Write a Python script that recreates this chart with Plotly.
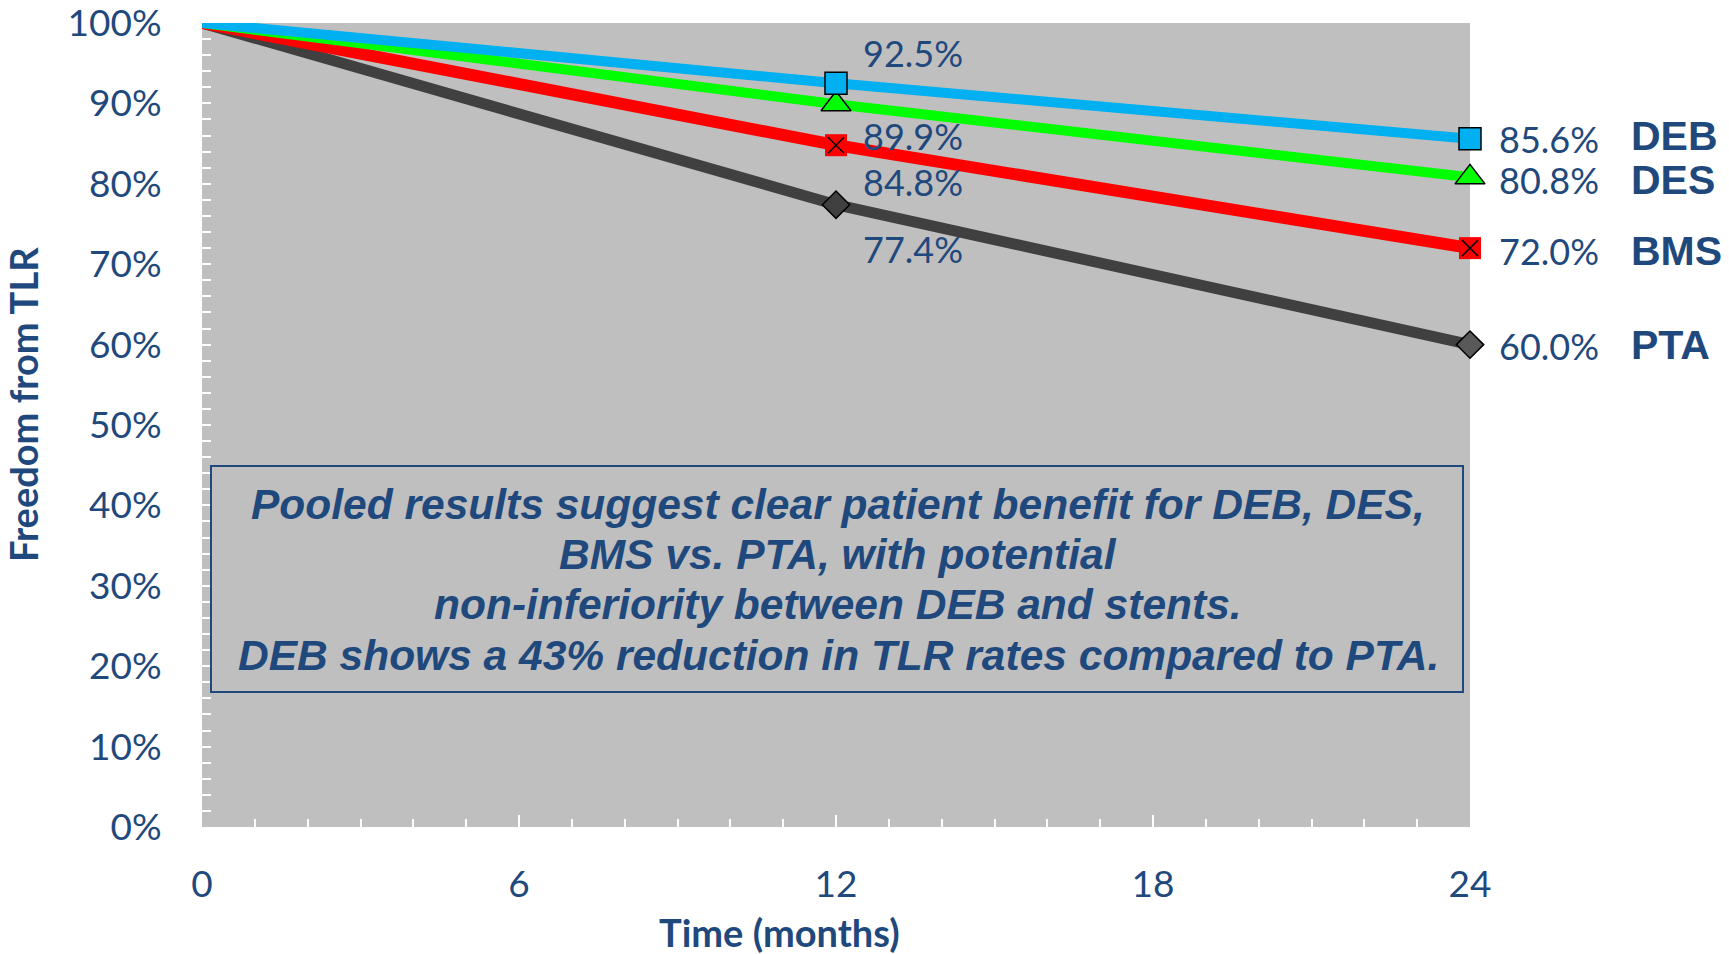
import plotly.graph_objects as go

# Freedom from target lesion revascularisation (TLR) over time
months = [0, 12, 24]
deb = [100, 92.5, 85.6]
des = [100, 89.9, 80.8]
bms = [100, 84.8, 72.0]
pta = [100, 77.4, 60.0]
series_names = ["DEB", "DES", "BMS", "PTA"]
x_tick_vals = [0, 6, 12, 18, 24]
y_tick_vals = [0, 10, 20, 30, 40, 50, 60, 70, 80, 90, 100]
y_tick_text = [f"{v}%" for v in y_tick_vals]
note_lines = [
    "Pooled results suggest clear patient benefit for DEB, DES,",
    "BMS vs. PTA, with potential",
    "non-inferiority between DEB and stents.",
    "DEB shows a 43% reduction in TLR rates compared to PTA.",
]

NAVY = "#1F497D"
W, H = 1729, 954
L, R, T, B = 202, 1470, 23, 827

fig = go.Figure()

styles = {
    "PTA": dict(vals=pta, color="#404040", width=11),
    "BMS": dict(vals=bms, color="#FF0000", width=12),
    "DES": dict(vals=des, color="#00FF00", width=10),
    "DEB": dict(vals=deb, color="#00B0F0", width=10),
}

# lines, back to front
for name in ["PTA", "BMS", "DES", "DEB"]:
    s = styles[name]
    fig.add_trace(go.Scatter(x=months, y=s["vals"], mode="lines",
                             line=dict(color=s["color"], width=s["width"]),
                             hoverinfo="skip", showlegend=False))

# markers at 12 and 24 months
mk_line = dict(color="black", width=1.5)
fig.add_trace(go.Scatter(x=months[1:], y=pta[1:], mode="markers", cliponaxis=False,
                         marker=dict(symbol="diamond", size=21,
                                     color=["#404040", "#595959"], line=mk_line),
                         showlegend=False))
fig.add_trace(go.Scatter(x=months[1:], y=bms[1:], mode="markers", cliponaxis=False,
                         marker=dict(symbol="square", size=22, color="#FF0000",
                                     line=dict(width=0)),
                         showlegend=False))
fig.add_trace(go.Scatter(x=months[1:], y=bms[1:], mode="markers", cliponaxis=False,
                         marker=dict(symbol="x-thin", size=16, color="black",
                                     line=dict(color="black", width=1.5)),
                         showlegend=False))
fig.add_trace(go.Scatter(x=months[1:], y=des[1:], mode="markers", cliponaxis=False,
                         marker=dict(symbol="triangle-up", size=26, color="#00FF00",
                                     line=mk_line),
                         showlegend=False))
fig.add_trace(go.Scatter(x=months[1:], y=deb[1:], mode="markers", cliponaxis=False,
                         marker=dict(symbol="square", size=22, color="#00B0F0",
                                     line=mk_line),
                         showlegend=False))

label_font = dict(family="Lato", size=36, color=NAVY)
name_font = dict(family="Liberation Sans, Arial", size=41, color=NAVY)

# vertical offsets of the value labels at 12 and 24 months
label_offsets = {"DEB": (30, 0), "DES": (-32, -3), "BMS": (-37, -3), "PTA": (-44, -1)}
name_offsets = {"DEB": 3, "DES": -3, "BMS": -3, "PTA": 0}

annotations = []
for name in series_names:
    vals = styles[name]["vals"]
    dy12, dy24 = label_offsets[name]
    annotations.append(dict(x=months[1], y=vals[1], xref="x", yref="y",
                            text=f"{vals[1]:.1f}%", showarrow=False,
                            xanchor="left", yanchor="middle",
                            xshift=25, yshift=dy12, font=label_font))
    annotations.append(dict(x=months[2], y=vals[2], xref="x", yref="y",
                            text=f"{vals[2]:.1f}%", showarrow=False,
                            xanchor="left", yanchor="middle",
                            xshift=27, yshift=dy24, font=label_font))
    annotations.append(dict(x=months[2], y=vals[2], xref="x", yref="y",
                            text=f"<b>{name}</b>", showarrow=False,
                            xanchor="left", yanchor="middle",
                            xshift=159, yshift=name_offsets[name], font=name_font))


def px_x(p):
    return (p - L) / (R - L)


def px_y(p):
    return (B - p) / (B - T)


# summary note inside a framed box
note_y = [504, 554, 604, 655]
for line, yy in zip(note_lines, note_y):
    annotations.append(dict(x=px_x(838), y=px_y(yy), xref="paper", yref="paper",
                            text=f"<b><i>{line}</i></b>", showarrow=False,
                            xanchor="center", yanchor="middle",
                            font=dict(family="Liberation Sans, Arial", size=42.5,
                                      color=NAVY)))

# axis titles
annotations.append(dict(x=px_x(23), y=px_y(405), xref="paper", yref="paper",
                        text="<b>Freedom from TLR</b>", textangle=-90, showarrow=False,
                        xanchor="center", yanchor="middle",
                        font=dict(family="Lato", size=38, color=NAVY)))
annotations.append(dict(x=px_x(779), y=px_y(932), xref="paper", yref="paper",
                        text="<b>Time (months)</b>", showarrow=False,
                        xanchor="center", yanchor="middle",
                        font=dict(family="Lato", size=38, color=NAVY)))

fig.add_shape(type="rect", xref="paper", yref="paper",
              x0=px_x(211), x1=px_x(1463), y0=px_y(692), y1=px_y(466),
              line=dict(color=NAVY, width=2), fillcolor="rgba(0,0,0,0)")

tick_font = dict(family="Lato", size=37, color=NAVY)
fig.update_layout(
    width=W, height=H,
    margin=dict(l=L, r=W - R, t=T, b=H - B, pad=0, autoexpand=False),
    paper_bgcolor="white", plot_bgcolor="#BFBFBF",
    showlegend=False,
    annotations=annotations,
    xaxis=dict(range=[0, 24], tickmode="array", tickvals=x_tick_vals,
               ticks="inside", ticklen=12,
               tickwidth=2, tickcolor="white", showgrid=False, zeroline=False,
               showline=True, linecolor="white", linewidth=2,
               minor=dict(dtick=1, ticks="inside", ticklen=8, tickwidth=2,
                          tickcolor="white", showgrid=False),
               tickfont=tick_font, ticklabelstandoff=24, automargin=False,
               ticklabeloverflow="allow", fixedrange=True),
    yaxis=dict(range=[0, 100], tickmode="array", tickvals=y_tick_vals,
               ticktext=y_tick_text,
               ticks="inside", ticklen=9, tickwidth=2, tickcolor="white",
               showgrid=False, zeroline=False, showline=True, linecolor="white",
               linewidth=2,
               minor=dict(dtick=2, ticks="inside", ticklen=9, tickwidth=2,
                          tickcolor="white", showgrid=False),
               tickfont=tick_font, ticklabelstandoff=31, automargin=False,
               ticklabeloverflow="allow", fixedrange=True),
)

fig.write_html("out.html")
